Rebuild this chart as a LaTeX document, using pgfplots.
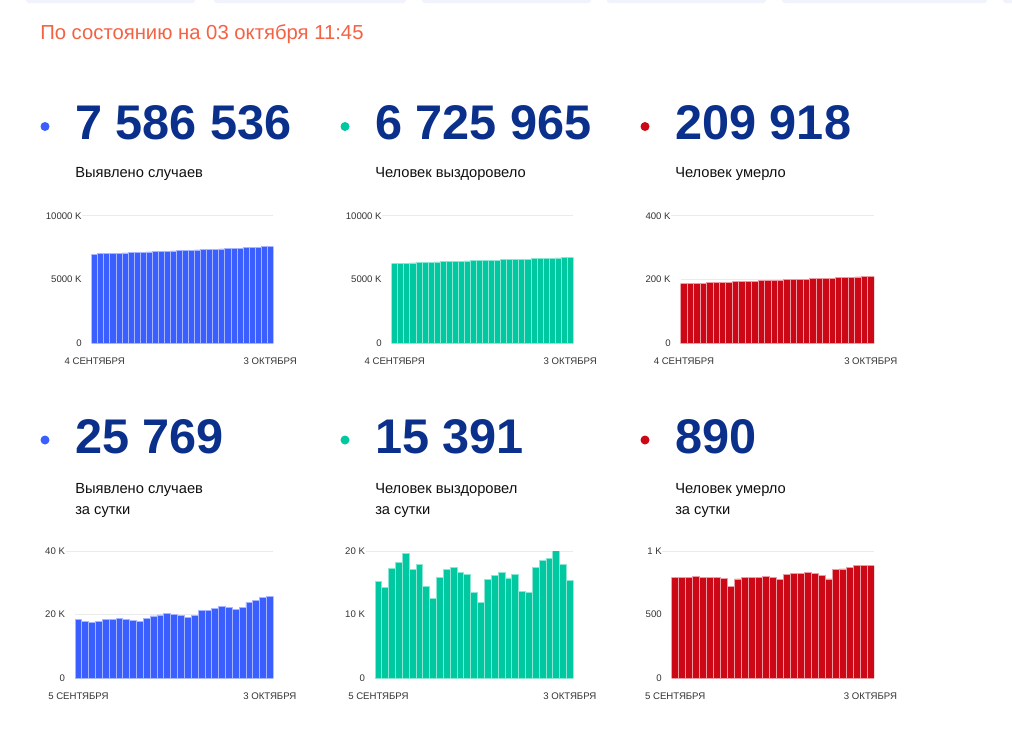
\documentclass[border=0pt]{standalone}
\usepackage{pgfplots}
\pgfplotsset{compat=1.18}
\usepackage{fontspec}
\setmainfont{Liberation Sans}
\definecolor{cblue}{RGB}{59,95,255}
\definecolor{cteal}{RGB}{0,200,160}
\definecolor{cred}{RGB}{205,8,22}
\definecolor{navy}{RGB}{10,48,140}
\definecolor{hdr}{RGB}{244,98,68}
\definecolor{tabc}{RGB}{240,243,252}
\definecolor{txt}{RGB}{15,15,15}

\pgfplotsset{
  mini/.style={
    scale only axis, anchor=south west,
    ybar, bar width=1, ymin=0,
    enlargelimits=false, scaled y ticks=false,
    axis line style={draw=none}, major tick style={draw=none},
    ymajorgrids, major grid style={black!8, line width=0.6pt, shorten <=-7pt},
    tick label style={font=\fontsize{7.2}{8}\selectfont, text=black!80},
    xticklabel style={yshift=-3pt},
    yticklabel style={xshift=-4pt},
  },
  top/.style={mini, height=95.7pt, xmin=-0.5, xmax=29.5, xtick={0,29},
    xticklabels={4 СЕНТЯБРЯ, 3 ОКТЯБРЯ}},
  bot/.style={mini, height=95pt, xmin=-0.5, xmax=28.5, xtick={0,28},
    xticklabels={5 СЕНТЯБРЯ, 3 ОКТЯБРЯ}},
}

\begin{document}
\begin{tikzpicture}
\begin{scope}[x=0.75pt,y=-0.75pt]
\useasboundingbox (0,0) rectangle (1012,743);
\fill[white] (0,0) rectangle (1012,743);
\begin{scope}
\clip (0,0) rectangle (1012,743);
\fill[tabc, rounded corners=2pt] (26,-10) rectangle (195,3);
\fill[tabc, rounded corners=2pt] (214,-10) rectangle (406,3);
\fill[tabc, rounded corners=2pt] (422,-10) rectangle (591,3);
\fill[tabc, rounded corners=2pt] (607,-10) rectangle (766,3);
\fill[tabc, rounded corners=2pt] (782,-10) rectangle (987,3);
\fill[tabc, rounded corners=2pt] (1003,-10) rectangle (1030,3);
\end{scope}
\node[anchor=base west, inner sep=0, text=hdr, font=\fontsize{15.2}{18}\selectfont] at (40,39.5) {По состоянию на 03 октября 11:45};
% dots
\fill[cblue] (45,126.5) circle (4.5);
\fill[cteal] (345,126.5) circle (4.5);
\fill[cred] (645,126.5) circle (4.5);
\fill[cblue] (45,440) circle (4.5);
\fill[cteal] (345,440) circle (4.5);
\fill[cred] (645,440) circle (4.5);
% numbers
\foreach \x/\y/\t in {75/139/{7 586 536}, 375/139/{6 725 965}, 675/139/{209 918}, 75/453/{25 769}, 375/453/{15 391}, 675/453/{890}}
  \node[anchor=base west, inner sep=0, text=navy, font=\fontsize{36.5}{40}\selectfont\bfseries] at (\x,\y) {\t};
% labels
\foreach \x/\y/\t in {75/177/{Выявлено случаев}, 375/177/{Человек выздоровело}, 675/177/{Человек умерло}, 75/493/{Выявлено случаев}, 375/493/{Человек выздоровел}, 675/493/{Человек умерло}, 75/514/{за сутки}, 375/514/{за сутки}, 675/514/{за сутки}}
  \node[anchor=base west, inner sep=0, text=txt, font=\fontsize{11}{12}\selectfont] at (\x,\y) {\t};
\end{scope}

% ---- top row: cumulative (thousands)
\begin{axis}[top, at={(68.775pt,-257.475pt)}, width=136.2pt, ymax=10000,
  ytick={0,5000,10000}, yticklabels={0, 5000 K, 10000 K}]
\addplot[fill=cblue, draw=cblue!45!white, line width=0.6pt] coordinates {
(0,6993.8)(1,7012.4)(2,7030.3)(3,7047.8)(4,7065.8)(5,7084.2)(6,7102.6)(7,7121.4)(8,7139.9)(9,7158.1)
(10,7175.9)(11,7194.7)(12,7214.3)(13,7234.2)(14,7254.6)(15,7274.8)(16,7294.6)(17,7313.8)(18,7333.5)(19,7354.9)
(20,7376.3)(21,7398.3)(22,7420.8)(23,7443.0)(24,7464.6)(25,7487.0)(26,7510.9)(27,7535.4)(28,7560.7)(29,7586.5)};
\end{axis}

\begin{axis}[top, at={(293.775pt,-257.475pt)}, width=136.2pt, ymax=10000,
  ytick={0,5000,10000}, yticklabels={0, 5000 K, 10000 K}]
\addplot[fill=cteal, draw=cteal!45!white, line width=0.6pt] coordinates {
(0,6254.2)(1,6269.5)(2,6283.8)(3,6301.1)(4,6319.4)(5,6339.1)(6,6356.3)(7,6374.2)(8,6388.7)(9,6401.2)
(10,6417.1)(11,6434.2)(12,6451.6)(13,6468.3)(14,6484.6)(15,6498.1)(16,6510.1)(17,6525.6)(18,6541.8)(19,6558.4)
(20,6574.2)(21,6590.6)(22,6604.3)(23,6617.8)(24,6635.2)(25,6653.7)(26,6672.6)(27,6692.7)(28,6710.6)(29,6726.0)};
\end{axis}

\begin{axis}[top, at={(510.5pt,-257.475pt)}, width=145pt, ymax=400,
  ytick={0,200,400}, yticklabels={0, 200 K, 400 K}]
\addplot[fill=cred, draw=cred!40!white, line width=0.6pt] coordinates {
(0,186.32)(1,187.11)(2,187.91)(3,188.70)(4,189.50)(5,190.30)(6,191.09)(7,191.89)(8,192.68)(9,193.40)
(10,194.18)(11,194.97)(12,195.77)(13,196.56)(14,197.36)(15,198.16)(16,198.94)(17,199.75)(18,200.58)(19,201.40)
(20,202.23)(21,203.06)(22,203.87)(23,204.65)(24,205.51)(25,206.37)(26,207.24)(27,208.13)(28,209.03)(29,209.92)};
\end{axis}

% ---- bottom row: daily
\begin{axis}[bot, at={(56.25pt,-508.5pt)}, width=148.7pt, ymax=40,
  ytick={0,20,40}, yticklabels={0, 20 K, 40 K}]
\addplot[fill=cblue, draw=cblue!45!white, line width=0.6pt] coordinates {
(0,18.6)(1,17.9)(2,17.5)(3,18.0)(4,18.4)(5,18.4)(6,18.8)(7,18.5)(8,18.2)(9,17.8)
(10,18.8)(11,19.6)(12,19.9)(13,20.4)(14,20.2)(15,19.8)(16,19.2)(17,19.7)(18,21.4)(19,21.4)
(20,22.0)(21,22.5)(22,22.2)(23,21.6)(24,22.4)(25,23.9)(26,24.5)(27,25.3)(28,25.8)};
\end{axis}

\begin{axis}[bot, at={(281.25pt,-508.5pt)}, width=148.7pt, ymax=20,
  ytick={0,10,20}, yticklabels={0, 10 K, 20 K}]
\addplot[fill=cteal, draw=cteal!45!white, line width=0.6pt] coordinates {
(0,15.3)(1,14.3)(2,17.3)(3,18.3)(4,19.7)(5,17.2)(6,17.9)(7,14.5)(8,12.5)(9,15.9)
(10,17.1)(11,17.4)(12,16.7)(13,16.3)(14,13.5)(15,12.0)(16,15.5)(17,16.2)(18,16.6)(19,15.8)
(20,16.4)(21,13.7)(22,13.5)(23,17.4)(24,18.5)(25,18.9)(26,20.1)(27,17.9)(28,15.4)};
\end{axis}

\begin{axis}[bot, at={(503.8pt,-508.5pt)}, width=151.7pt, ymax=1000,
  ytick={0,500,1000}, yticklabels={0, 500, 1 K}]
\addplot[fill=cred, draw=cred!40!white, line width=0.6pt] coordinates {
(0,795)(1,792)(2,797)(3,800)(4,795)(5,792)(6,797)(7,789)(8,721)(9,782)
(10,795)(11,795)(12,792)(13,803)(14,795)(15,779)(16,816)(17,824)(18,824)(19,832)
(20,826)(21,808)(22,782)(23,858)(24,861)(25,871)(26,892)(27,892)(28,890)};
\end{axis}
\end{tikzpicture}
\end{document}
